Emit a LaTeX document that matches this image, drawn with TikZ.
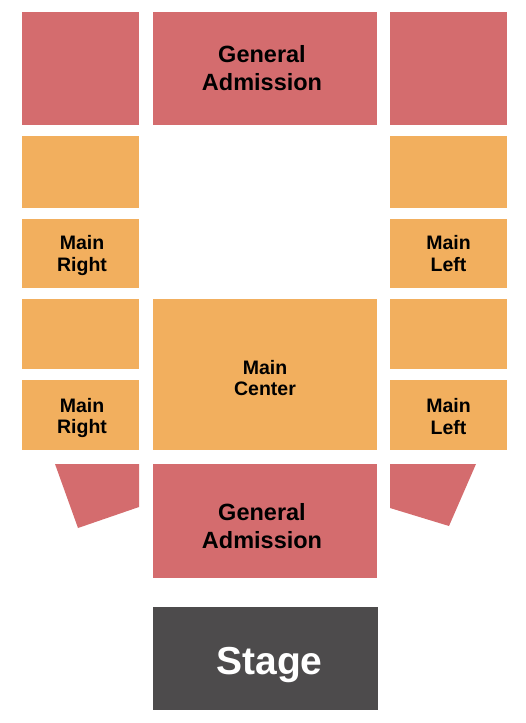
\documentclass[tikz,border=0pt]{standalone}
\usepackage{fontspec}
\setmainfont{Liberation Sans}
\usepackage{tikz}

\definecolor{gared}{HTML}{D46C6E}
\definecolor{mainorange}{HTML}{F2AF5E}
\definecolor{stagegray}{HTML}{4D4B4C}

\tikzset{
  seat/.style={rectangle, inner sep=0pt},
  gabox/.style={seat, fill=gared},
  mainbox/.style={seat, fill=mainorange},
  stagebox/.style={seat, fill=stagegray},
  seatlabel/.style={inner sep=0pt, align=center, font=\bfseries\fontsize{19.5}{21.5}\selectfont},
  galabel/.style={seatlabel, font=\bfseries\fontsize{23.5}{28}\selectfont},
  stagelabel/.style={seatlabel, text=white, font=\bfseries\fontsize{39}{40}\selectfont}
}

\begin{document}
\begin{tikzpicture}[x=1pt, y=-1pt]
\useasboundingbox (0,0) rectangle (525,723);

\node[gabox, minimum width=224pt, minimum height=113pt](GA1) at (265,68.5) {};
\node[gabox, minimum width=117pt, minimum height=113pt](R1) at (80.5,68.5) {};
\node[gabox, minimum width=117pt, minimum height=113pt](L1) at (448.5,68.5) {};

\node[mainbox, minimum width=117pt, minimum height=72pt](R2) at (80.5,172) {};
\node[mainbox, minimum width=117pt, minimum height=72pt](L2) at (448.5,172) {};
\node[mainbox, minimum width=117pt, minimum height=69pt](R3) at (80.5,253.5) {};
\node[mainbox, minimum width=117pt, minimum height=69pt](L3) at (448.5,253.5) {};
\node[mainbox, minimum width=117pt, minimum height=70pt](R4) at (80.5,334) {};
\node[mainbox, minimum width=117pt, minimum height=70pt](L4) at (448.5,334) {};
\node[mainbox, minimum width=117pt, minimum height=70pt](R5) at (80.5,415) {};
\node[mainbox, minimum width=117pt, minimum height=70pt](L5) at (448.5,415) {};
\node[mainbox, minimum width=224pt, minimum height=151pt](MC) at (265,374.5) {};

\node[gabox, minimum width=224pt, minimum height=114pt](GA2) at (265,521) {};
\fill[gared] (55,464) -- (139,464) -- (139,507) -- (78,528) -- cycle;
\fill[gared] (390,464) -- (476,464) -- (449,526) -- (390,508) -- cycle;

\node[stagebox, minimum width=225pt, minimum height=103pt](ST) at (265.5,658.5) {};

\node[galabel](GA1_txt) at ([xshift=-3pt]GA1.center) {General\\Admission};
\node[seatlabel](R3_txt) at ([xshift=1.5pt, yshift=-2pt]R3.center) {Main\\Right};
\node[seatlabel](L3_txt) at (L3.center) {Main\\Left};
\node[seatlabel](R5_txt) at ([xshift=1.5pt, yshift=-3pt]R5.center) {Main\\Right};
\node[seatlabel](L5_txt) at ([yshift=-1.5pt]L5.center) {Main\\Left};
\node[seatlabel](MC_txt) at ([yshift=-3.5pt]MC.center) {Main\\Center};
\node[galabel](GA2_txt) at ([xshift=-3pt, yshift=-5pt]GA2.center) {General\\Admission};
\node[stagelabel](ST_txt) at ([xshift=4pt, yshift=-7pt]ST.center) {Stage};
\end{tikzpicture}
\end{document}
